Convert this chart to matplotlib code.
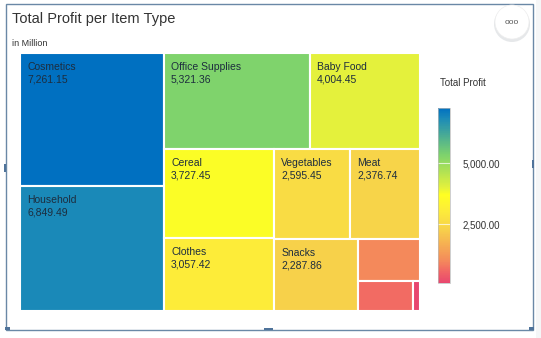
import matplotlib
matplotlib.use("Agg")
import matplotlib.pyplot as plt
from matplotlib.patches import Rectangle, Circle
from matplotlib.colors import LinearSegmentedColormap, Normalize
from matplotlib.colorbar import ColorbarBase

plt.rcParams['font.family'] = ['Liberation Sans', 'DejaVu Sans']

# data (total profit, in million)
items = ['Cosmetics', 'Household', 'Office Supplies', 'Baby Food', 'Cereal',
         'Clothes', 'Vegetables', 'Meat', 'Snacks', 'Personal Care',
         'Beverages', 'Fruits']
profit = [7261.15, 6849.49, 5321.36, 4004.45, 3727.45, 3057.42, 2595.45,
          2376.74, 2287.86, 1000.00, 620.00, 80.00]
cbar_ticks = [2500, 5000]

# colour scale anchors (value, colour)
scale_vals = [80, 620, 1000, 2300, 3050, 3700, 4000, 5300, 6850, 7261.15]
scale_cols = ['#e8476f', '#f26b63', '#f48b5b', '#f7d24a', '#fdec3a',
              '#ffff22', '#e3f13c', '#80d46b', '#1b8ab8', '#0070c1']

vmin, vmax = min(profit), max(profit)
cmap = LinearSegmentedColormap.from_list(
    'profit', [((v - vmin) / (vmax - vmin), c) for v, c in zip(scale_vals, scale_cols)])
norm = Normalize(vmin, vmax)


def worst(row, side):
    s = sum(row)
    return max(max(side * side * r / (s * s), s * s / (side * side * r)) for r in row)


def squarify(vals, x, y, w, h):
    total = sum(vals)
    vals = [v * w * h / total for v in vals]
    rects = []
    while vals:
        short = min(w, h)
        row = [vals[0]]
        i = 1
        while i < len(vals) and worst(row + [vals[i]], short) <= worst(row, short):
            row.append(vals[i])
            i += 1
        s = sum(row)
        if w >= h:
            rw = s / h
            yy = y
            for v in row:
                rects.append((x, yy, rw, v / rw))
                yy += v / rw
            x += rw
            w -= rw
        else:
            rh = s / w
            xx = x
            for v in row:
                rects.append((xx, y, v / rh, rh))
                xx += v / rh
            y += rh
            h -= rh
        vals = vals[i:]
    return rects


W, H = 541, 338
fig = plt.figure(figsize=(W / 100, H / 100), dpi=100)
fig.patch.set_facecolor('white')

# card chrome, pixel coords
bg = fig.add_axes([0, 0, 1, 1])
bg.set_xlim(0, W)
bg.set_ylim(H, 0)
bg.axis('off')
bg.add_patch(Rectangle((536, 0), 5, H, color='#f5f6f7', lw=0))
bg.add_patch(Rectangle((6, 4), 527, 326, fill=False, ec='#6a88a6', lw=1))
for hx, hy, hw, hh in [(5, 327, 5, 3), (529, 327, 5, 3), (264, 328, 9, 2),
                       (4, 164, 2, 8), (532, 160, 2, 8)]:
    bg.add_patch(Rectangle((hx, hy), hw, hh, color='#4f739a', lw=0))
bg.add_patch(Circle((512, 24), 18, color='#e6e8ea', lw=0))
bg.add_patch(Circle((512, 22), 17, color='white', ec='#eeeeee', lw=0.5))
bg.text(512, 22, 'ooo', ha='center', va='center', fontsize=6, color='#555555')
bg.text(12, 19, 'Total Profit per Item Type', fontsize=10.5, color='#333333', va='center')
bg.text(12, 43, 'in Million', fontsize=6.5, color='#333333', va='center')

# treemap
tx, ty, tw, th = 20, 53, 400, 258
ax = fig.add_axes([tx / W, 1 - (ty + th) / H, tw / W, th / H])
ax.set_xlim(0, tw)
ax.set_ylim(th, 0)
ax.axis('off')
for name, val, (x, y, w, h) in zip(items, profit, squarify(profit, 0, 0, tw, th)):
    ax.add_patch(Rectangle((x, y), w, h, facecolor=cmap(norm(val)),
                           edgecolor='white', lw=1.5))
    if w > 60 and h > 50:
        ax.text(x + 7, y + 9, name, fontsize=7.5, color='#1d2d3e', va='top')
        ax.text(x + 7, y + 22, f'{val:,.2f}', fontsize=7.5, color='#1d2d3e', va='top')

# colour legend
bg.text(440, 83, 'Total Profit', fontsize=7, color='#333333', va='center')
cax = fig.add_axes([438 / W, 1 - 283 / H, 12 / W, 175 / H])
cb = ColorbarBase(cax, cmap=cmap, norm=norm, ticks=cbar_ticks)
cb.outline.set_edgecolor('#bbbbbb')
cb.outline.set_linewidth(0.5)
cb.set_ticklabels([f'{t:,.2f}' for t in cbar_ticks])
cax.tick_params(length=0, pad=9, labelsize=7, labelcolor='#333333')
for t in cbar_ticks:
    cax.axhline(t, color='white', lw=0.8, alpha=0.7)

fig.savefig('out.png', dpi=100)
